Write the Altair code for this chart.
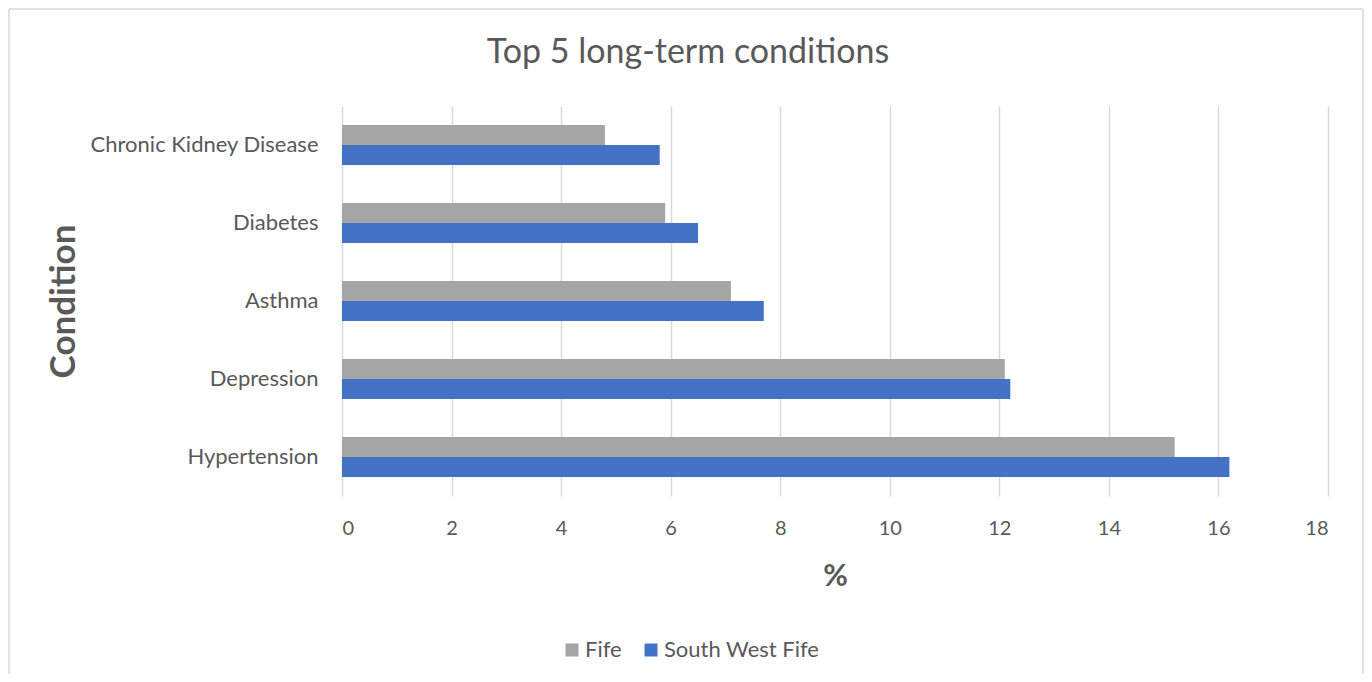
import altair as alt
import pandas as pd

conditions = ["Chronic Kidney Disease", "Diabetes", "Asthma", "Depression", "Hypertension"]
series = ["Fife", "South West Fife"]
fife = [4.8, 5.9, 7.1, 12.1, 15.2]
south_west_fife = [5.8, 6.5, 7.7, 12.2, 16.2]
x_ticks = [0, 2, 4, 6, 8, 10, 12, 14, 16, 18]

rows = []
for c, a, b in zip(conditions, fife, south_west_fife):
    rows.append({"Condition": c, "Area": "Fife", "Value": a})
    rows.append({"Condition": c, "Area": "South West Fife", "Value": b})
df = pd.DataFrame(rows)

FONT = "Lato"
TXT = "#595959"
BORDER = "#d9d9d9"

one = pd.DataFrame({"d": [0]})
left_edge = alt.Chart(one).mark_rule(color=BORDER, strokeWidth=1.5).encode(
    x=alt.value(-333), y=alt.value(-97), y2=alt.value(568))
right_edge = alt.Chart(one).mark_rule(color=BORDER, strokeWidth=1.5).encode(
    x=alt.value(1021), y=alt.value(-97), y2=alt.value(568))
top_edge = alt.Chart(one).mark_rule(color=BORDER, strokeWidth=1.5).encode(
    x=alt.value(-333), x2=alt.value(1021), y=alt.value(-97))

bars = alt.Chart(df).mark_bar(size=20).encode(
    x=alt.X("Value:Q", scale=alt.Scale(domain=[0, 18], nice=False),
            axis=alt.Axis(values=x_ticks, title="%", grid=True, gridColor="#d9d9d9",
                          gridWidth=1.5, ticks=False, domain=False, labelPadding=22,
                          labelFontSize=20, labelColor=TXT, labelFont=FONT,
                          titleFontSize=30, titleFontWeight="bold", titleColor=TXT,
                          titleFont=FONT, titleY=80, titleBaseline="middle")),
    y=alt.Y("Condition:N", sort=conditions,
            scale=alt.Scale(paddingInner=0.487, paddingOuter=0.2435),
            axis=alt.Axis(title="Condition", ticks=False, domain=False, labelPadding=24,
                          labelFontSize=22, labelColor=TXT, labelFont=FONT, labelLimit=400,
                          titleFontSize=35, titleFontWeight="bold", titleColor=TXT,
                          titleFont=FONT, titleX=-279, titleY=195, titleAngle=-90,
                          titleAlign="center", titleBaseline="middle")),
    yOffset=alt.YOffset("Area:N", sort=series, scale=alt.Scale(paddingInner=0, paddingOuter=0)),
    color=alt.Color("Area:N", sort=series,
                    scale=alt.Scale(domain=series, range=["#a5a5a5", "#4472c4"]),
                    legend=alt.Legend(title=None, orient="none", direction="horizontal",
                                      legendX=219, legendY=533, symbolType="square",
                                      symbolSize=169, symbolStrokeWidth=0,
                                      labelFontSize=22, labelColor=TXT, labelFont=FONT,
                                      columnPadding=18, labelOffset=2)),
)

chart = alt.layer(left_edge, right_edge, top_edge, bars).properties(
    width=986, height=390,
    title=alt.Title("Top 5 long-term conditions", fontSize=34, font=FONT,
                    fontWeight="normal", color=TXT, anchor="middle", dx=-147, offset=-62),
    autosize=alt.AutoSizeParams(type="none"),
    padding={"left": 334, "top": 98, "right": 36, "bottom": 178},
).configure(background="white", view=alt.ViewConfig(stroke=None))

chart.save("out.html", embed_options={"renderer": "svg", "actions": False})
